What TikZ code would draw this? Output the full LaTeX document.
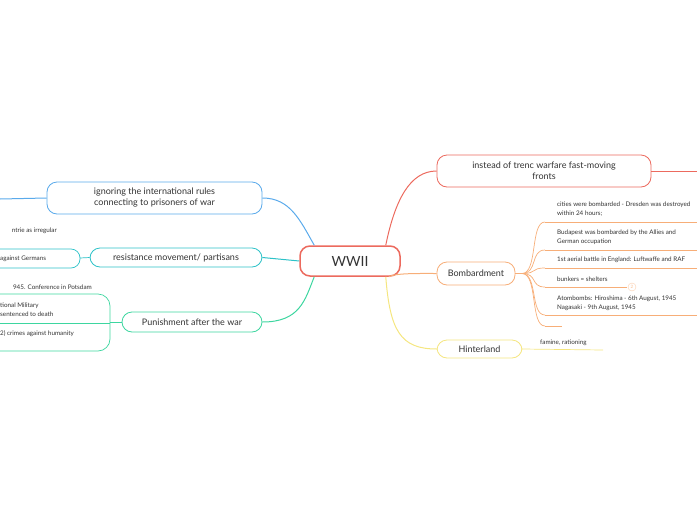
\documentclass[tikz,border=0pt]{standalone}
\usepackage{fontspec}
\setmainfont{Lato}
\definecolor{cred}{HTML}{EC6A5E}
\definecolor{cora}{HTML}{F7AE78}
\definecolor{cyel}{HTML}{F5E680}
\definecolor{cblu}{HTML}{5AAAEB}
\definecolor{ctea}{HTML}{2DC2C8}
\definecolor{cgrn}{HTML}{3DD6A0}
\definecolor{ctxt}{HTML}{333333}
\begin{document}
\begin{tikzpicture}[x=1pt,y=-1pt,
  topic/.style={draw,rounded corners=10pt,line width=0.8pt,fill=white,text=ctxt,font=\fontsize{9}{11}\selectfont,align=center,inner sep=0pt},
  leaf/.style={text=ctxt,font=\fontsize{6.3}{9.5}\selectfont,align=left,anchor=west,inner sep=0pt},
  br/.style={line width=0.7pt}]
\useasboundingbox (0,0) rectangle (697,520);
\clip (0,0) rectangle (697,520);
% central
\node[topic,draw=cred,line width=1.5pt,minimum width=100pt,minimum height=30pt,font=\fontsize{14}{15}\selectfont] (c) at (350,261) {WWII};
% right topics
\node[topic,draw=cred,minimum width=214pt,minimum height=32pt] (t1) at (544,171) {instead of trenc warfare fast-moving\\fronts};
\node[topic,draw=cora,minimum width=78pt,minimum height=23pt] (t2) at (476,273.5) {Bombardment};
\node[topic,draw=cyel,minimum width=85pt,minimum height=18pt] (t3) at (479.5,349) {Hinterland};
% left topics
\node[topic,draw=cblu,minimum width=215pt,minimum height=32pt] (l1) at (154.5,198) {ignoring the international rules\\connecting to prisoners of war};
\node[topic,draw=ctea,minimum width=172pt,minimum height=19pt] (l2) at (176,257.5) {resistance movement/ partisans};
\node[topic,draw=cgrn,minimum width=140pt,minimum height=20pt] (l3) at (192,322) {Punishment after the war};
% connectors from centre
\draw[cred,line width=1pt] (c.north east)++(-15,0) .. controls (395,200) and (410,171) .. (t1.west);
\draw[cora,line width=1pt] (c.south east)++(-12,0) .. controls (395,273) and (420,273.5) .. (t2.west);
\draw[cyel,line width=1pt] (c.south east)++(-15,0) .. controls (390,330) and (400,349) .. (t3.west);
\draw[cblu,line width=1pt] (c.north west)++(15,0) .. controls (300,220) and (290,198) .. (l1.east);
\draw[ctea,line width=1pt] (c.west) -- (l2.east);
\draw[cgrn,line width=1pt] (c.south west)++(15,0) .. controls (305,300) and (300,322) .. (l3.east);
\draw[cred,line width=1pt] (t1.east) -- (697,171);
\draw[cblu,line width=1pt] (l1.west) -- (0,199);
% bombardment children
\draw[cora,br] (t2.east) -- (522,273.5);
\foreach \y in {222,250,268,287,315,326} {
  \draw[cora,br] (522,273.5) .. controls (538,273.5) and (530,\y) .. (545,\y);
}
\foreach \y in {222,250,268,315} { \draw[cora,br] (545,\y) -- (697,\y); }
\draw[cora,br] (545,287) -- (627,287);
\draw[cora,br] (545,326) -- (562,326);
\node[circle,draw=cora!60,text=cora!80,inner sep=0.5pt,minimum size=8pt,font=\fontsize{4.5}{5}\selectfont] (n2) at (632,287) {2};
\node[leaf] (b1) at (557,209) {cities were bombarded - Dresden was destroyed\\within 24 hours;};
\node[leaf] (b2) at (557,237) {Budapest was bombarded by the Allies and\\German occupation};
\node[leaf] (b3) at (557,260) {1st aerial battle in England: Luftwaffe and RAF};
\node[leaf] (b4) at (557,279) {bunkers = shelters};
\node[leaf] (b5) at (557,303) {Atombombs: Hiroshima - 6th August, 1945\\Nagasaki - 9th August, 1945};
% hinterland child
\draw[cyel,br] (t3.east) -- (603,350);
\node[leaf] (h1) at (540,343) {famine, rationing};
% resistance children
\draw[ctea,br] (l2.west) -- (80,258);
\draw[ctea,br,rounded corners=9pt] (-20,249) -- (80,249) -- (80,268) -- (-20,268);
\node[leaf] (r1) at (0,258.5) {against Germans};
\node[leaf,anchor=east] (r0) at (57,231) {ntrie as irregular};
% punishment children
\draw[cgrn,br] (l3.west) -- (110,322);
\draw[cgrn,br,rounded corners=12pt] (-20,294) -- (110,294) -- (110,351) -- (-20,351);
\draw[cgrn,br] (-20,323) -- (110,323);
\node[leaf,anchor=east] (p0) at (92,287) {945. Conference in Potsdam};
\node[leaf] (p1) at (0,309.5) {tional Military\\sentenced to death};
\node[leaf] (p2) at (0,334) {2) crimes against humanity};
\end{tikzpicture}
\end{document}
